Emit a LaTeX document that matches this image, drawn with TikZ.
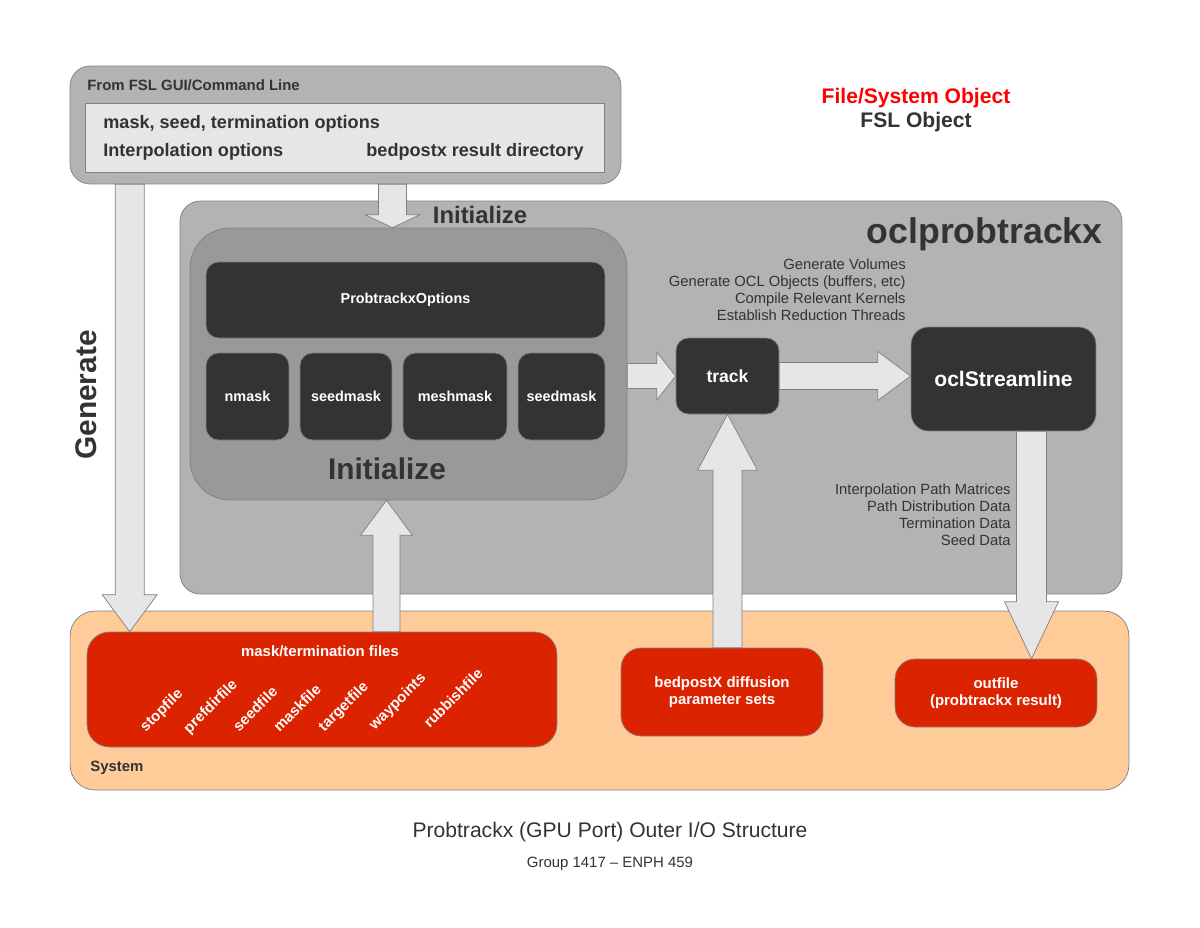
\documentclass[tikz,border=0pt]{standalone}
\usepackage{fontspec}
\setmainfont{Liberation Sans}
\usetikzlibrary{calc}

\definecolor{panelgray}{HTML}{B3B3B3}
\definecolor{initgray}{HTML}{999999}
\definecolor{darkbox}{HTML}{333333}
\definecolor{lightbox}{HTML}{E6E6E6}
\definecolor{peach}{HTML}{FFCC99}
\definecolor{filered}{HTML}{DC2300}
\definecolor{textdark}{HTML}{333333}

% block arrow: from, to, shaft half width, head half width, head length
\newcommand{\blockarrow}[5]{%
  \coordinate (ba-h) at ($(#2)!#5!(#1)$);
  \filldraw[arrowbody] ($(#1)!#3!90:(#2)$) -- ($(ba-h)!#3!90:(#2)$)
    -- ($(ba-h)!#4!90:(#2)$) -- (#2) -- ($(ba-h)!#4!-90:(#2)$)
    -- ($(ba-h)!#3!-90:(#2)$) -- ($(#1)!#3!-90:(#2)$) -- cycle;}

\tikzset{
  panel/.style={draw=gray, rounded corners=0.4cm, inner sep=0pt},
  fslbox/.style={draw=gray, fill=darkbox, rounded corners=0.25cm, text=white,
    font=\bfseries\fontsize{8.2}{10}\selectfont, inner sep=0pt},
  filebox/.style={draw=gray, fill=filered, rounded corners=0.4cm, text=white,
    font=\bfseries\fontsize{8.5}{9.4}\selectfont, align=center, inner sep=0pt},
  lbl/.style={text=textdark, inner sep=0pt},
  rotlbl/.style={text=white, font=\bfseries\fontsize{8.5}{10}\selectfont, inner sep=0pt},
  arrowbody/.style={draw=gray, fill=lightbox, line join=miter},
}

\begin{document}
\begin{tikzpicture}[x=0.02cm,y=-0.02cm]
\useasboundingbox (0,0) rectangle (1200,927);

% containers
\node (system) [panel, fill=peach, minimum width=21.18cm, minimum height=3.58cm, rounded corners=0.5cm] at (599.5,700.5) {};
\node (ocl) [panel, fill=panelgray, minimum width=18.84cm, minimum height=7.86cm] at (651,397.5) {};
\node (gui) [panel, fill=panelgray, minimum width=11.02cm, minimum height=2.36cm] at (345.5,125) {};
\node (guiopts) [draw=gray, fill=lightbox, minimum width=10.38cm, minimum height=1.38cm] at (344.5,137.5) {};
\node (init) [panel, fill=initgray, minimum width=8.74cm, minimum height=5.44cm, rounded corners=0.8cm] at (408.5,364) {};

% FSL objects
\node (options) [fslbox, minimum width=7.98cm, minimum height=1.52cm] at (405.5,300) {ProbtrackxOptions};
\node (nmask) [fslbox, minimum width=1.66cm, minimum height=1.74cm] at (247.5,396.5) {nmask};
\node (seedmask) [fslbox, minimum width=1.84cm, minimum height=1.74cm] at (346,396.5) {seedmask};
\node (meshmask) [fslbox, minimum width=2.08cm, minimum height=1.74cm] at (455,396.5) {meshmask};
\node (seedmasktwo) [fslbox, minimum width=1.74cm, minimum height=1.74cm] at (561.5,396.5) {seedmask};
\node (track) [fslbox, minimum width=2.06cm, minimum height=1.52cm, font=\bfseries\fontsize{10}{12}\selectfont] at (727.5,376) {track};
\node (ocls) [fslbox, minimum width=3.7cm, minimum height=2.08cm, rounded corners=0.35cm, font=\bfseries\fontsize{12}{14}\selectfont] at (1003.5,379) {oclStreamline};

% file/system objects
\node (mask) [filebox, minimum width=9.4cm, minimum height=2.3cm, rounded corners=0.45cm] at (322,689.5) {};
\node (bedpost) [filebox, minimum width=4.04cm, minimum height=1.76cm] at (722,692) {bedpostX diffusion\\parameter sets};
\node (outfile) [filebox, minimum width=4.04cm, minimum height=1.36cm] at (996,693) {outfile\\(probtrackx result)};

\node (masktitle) [rotlbl] at (320,651) {mask/termination files};
\foreach \name/\x/\y in {stopfile/162/711, prefdirfile/211/707, seedfile/255/709, maskfile/297/708,
    targetfile/344/707, waypoints/398/702, rubbishfile/453/698}
  \node (\name) [rotlbl, rotate=45] at (\x,\y) {\name};

% labels
\node (guititle) [lbl, anchor=west, font=\bfseries\fontsize{8.5}{10}\selectfont] at (87,85) {From FSL GUI/Command Line};
\node (optmask) [lbl, anchor=west, font=\bfseries\fontsize{10.3}{12}\selectfont] at (103,124) {mask, seed, termination options};
\node (optinterp) [lbl, anchor=west, font=\bfseries\fontsize{10.3}{12}\selectfont] at (103,152) {Interpolation options};
\node (optdir) [lbl, anchor=east, font=\bfseries\fontsize{10.3}{12}\selectfont] at (584,152) {bedpostx result directory};
\node (legfile) [lbl, text=red, font=\bfseries\fontsize{12}{14}\selectfont] at (916,98) {File/System Object};
\node (legfsl) [lbl, font=\bfseries\fontsize{12}{14}\selectfont] at (916,122) {FSL Object};
\node (ocltitle) [lbl, anchor=east, font=\bfseries\fontsize{20.3}{24}\selectfont] at (1103,234) {oclprobtrackx};
\node (inittop) [lbl, font=\bfseries\fontsize{13.6}{16}\selectfont] at (480,215) {Initialize};
\node (initbig) [lbl, font=\bfseries\fontsize{17}{20}\selectfont] at (387,469) {Initialize};
\node (generate) [lbl, rotate=90, font=\bfseries\fontsize{17}{20}\selectfont] at (86,395) {Generate};
\node (system label) [lbl, anchor=west, font=\bfseries\fontsize{8.5}{10}\selectfont] at (90,768) {System};
\node (setup) [lbl, anchor=east, align=right, font=\fontsize{8.4}{9.65}\selectfont] at (906,289.5)
  {Generate Volumes\\Generate OCL Objects (buffers, etc)\\Compile Relevant Kernels\\Establish Reduction Threads};
\node (results) [lbl, anchor=east, align=right, font=\fontsize{8.4}{9.65}\selectfont] at (1011,514.5)
  {Interpolation Path Matrices\\Path Distribution Data\\Termination Data\\Seed Data};
\node (caption) [lbl, font=\fontsize{12}{14}\selectfont] at (610,832) {Probtrackx (GPU Port) Outer I/O Structure};
\node (group) [lbl, font=\fontsize{8.5}{10}\selectfont] at (610,864) {Group 1417 -- ENPH 459};

% arrows
\coordinate (g1) at ($(gui.south west)+(60,0)$);
\coordinate (g2) at (g1 |- mask.north);
\blockarrow{g1}{g2}{0.29cm}{0.55cm}{0.74cm}
\coordinate (i1) at ($(gui.south)+(47,0)$);
\coordinate (i2) at (i1 |- init.north);
\blockarrow{i1}{i2}{0.28cm}{0.55cm}{0.26cm}
\coordinate (m1) at ($(init.south)+(-22,0)$);
\coordinate (m2) at (m1 |- mask.north);
\blockarrow{m2}{m1}{0.27cm}{0.52cm}{0.7cm}
\coordinate (t1) at (init.east |- track);
\blockarrow{t1}{track.west}{0.25cm}{0.48cm}{0.38cm}
\coordinate (s1) at (track.east -| ocls.west);
\blockarrow{track.east}{s1}{0.27cm}{0.49cm}{0.66cm}
\coordinate (b1) at (track.south |- bedpost.north);
\blockarrow{b1}{track.south}{0.29cm}{0.6cm}{1.12cm}
\coordinate (o1) at ($(ocls.south)+(28,0)$);
\coordinate (o2) at (o1 |- outfile.north);
\blockarrow{o1}{o2}{0.3cm}{0.54cm}{1.14cm}

\end{tikzpicture}
\end{document}
